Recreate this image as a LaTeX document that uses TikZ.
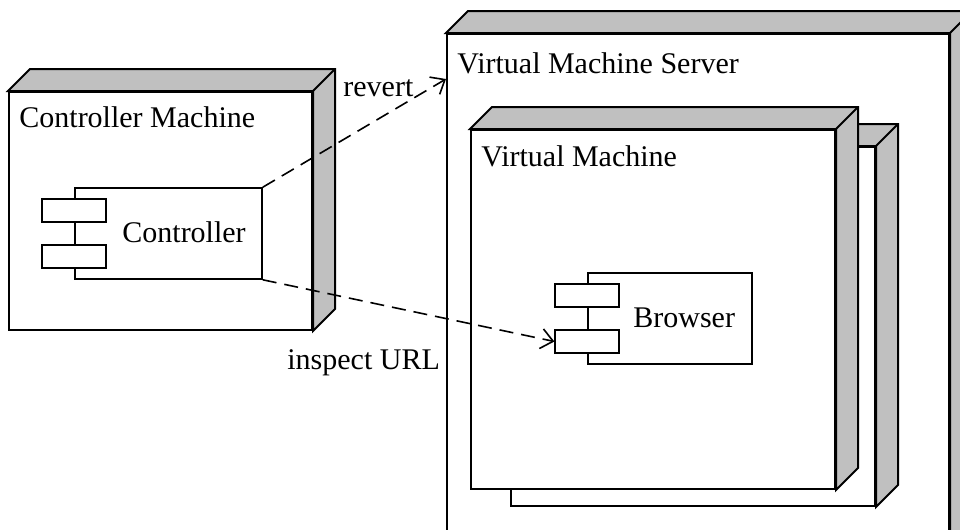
\documentclass[tikz,border=0pt]{standalone}
\usepackage{fontspec}
\setmainfont{Liberation Serif}
\usetikzlibrary{arrows.meta,positioning,calc}
\definecolor{facegray}{RGB}{192,192,192}
\tikzset{
  machine/.style={draw, fill=white, line width=1pt, inner sep=0pt},
  face/.style={draw, fill=facegray, line width=1pt, line join=miter},
  comp/.style={draw, fill=white, line width=0.8pt, inner sep=0pt, minimum height=45.5pt},
  port/.style={draw, fill=white, line width=0.8pt, inner sep=0pt, minimum width=32pt, minimum height=11.5pt},
  title/.style={inner sep=0pt, font=\fontsize{15}{18}\selectfont},
  dep/.style={-{Straight Barb[length=6pt,width=10pt]}, line width=0.8pt, dash pattern=on 7pt off 4pt}}
% grey top and side of a 3d node
\newcommand{\boxfaces}[1]{%
  \filldraw[face] (#1.north west) -- ++(22,-22) -| ($(#1.south east)+(22,-22)$) -- (#1.south east) -- (#1.north east) -- cycle;
  \draw[face] (#1.north east) -- ++(22,-22);}

\begin{document}
\begin{tikzpicture}[x=0.5pt, y=-0.5pt]
  \useasboundingbox (0,0) rectangle (960,530);
  \clip (0,0) rectangle (960,530);
  % controller side
  \node[machine, minimum width=151.5pt, minimum height=119pt] (cm) at (160.5,211) {};
  \boxfaces{cm}
  \node[title, anchor=base west] (cmtitle) at ($(cm.north west)+(11,36)$) {Controller Machine};
  \node[comp, minimum width=93.5pt] (ctrl) at (168.5,233.5) {};
  \node[port] (ctrlp1) at ($(ctrl.west)+(0,-23)$) {};
  \node[port] (ctrlp2) at ($(ctrl.west)+(0,23)$) {};
  \node[title, anchor=base west] (ctrltext) at (122,242) {Controller};
  % server side
  \node[machine, minimum width=251pt, minimum height=268pt] (srv) at (698,302) {};
  \boxfaces{srv}
  \node[title, anchor=base west] (srvtitle) at ($(srv.north west)+(11,40)$) {Virtual Machine Server};
  \node[machine, minimum width=182pt, minimum height=179.5pt] (vmstack) at (693,326.5) {};
  \boxfaces{vmstack}
  \node[machine, minimum width=182pt, minimum height=179.5pt] (vm) at (653,309.5) {};
  \boxfaces{vm}
  \node[title, anchor=base west] (vmtitle) at ($(vm.north west)+(11,37)$) {Virtual Machine};
  \node[comp, minimum width=82pt] (browser) at (670,318.5) {};
  \node[port] (brp1) at ($(browser.west)+(0,-23)$) {};
  \node[port] (brp2) at ($(browser.west)+(0,23)$) {};
  \node[title, anchor=base west] (brtext) at (633,327) {Browser};
  % dependencies
  \coordinate (srvin) at ($(srv.north west)+(0,46)$);
  \draw[dep] (ctrl.north east) -- (srvin);
  \draw[dep] (ctrl.south east) -- (brp2.west);
  \node[title, anchor=base west] (revlbl) at (343,97) {revert};
  \node[title, anchor=base west] (urllbl) at (287,369) {inspect URL};
\end{tikzpicture}
\end{document}
